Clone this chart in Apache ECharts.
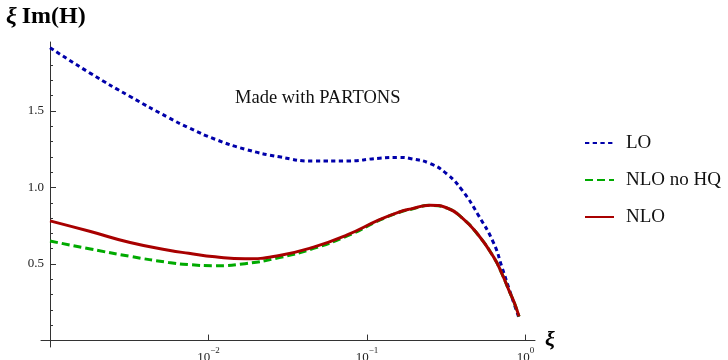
<!DOCTYPE html>
<html>
<head>
<meta charset="utf-8">
<script src="https://cdn.jsdelivr.net/npm/echarts@6/dist/echarts.min.js"></script>
<style>
html,body{margin:0;padding:0;background:#fff;}
#chart{width:728px;height:360px;}
</style>
</head>
<body>
<div id="chart"></div>
<script>
// ---- data ----
const xi        = [0.001, 0.0018, 0.0032, 0.0056, 0.0075, 0.011, 0.017, 0.028, 0.046, 0.075, 0.12, 0.16, 0.19, 0.25, 0.32, 0.4, 0.5, 0.63, 0.71, 0.79, 0.85, 0.91];
const loValues  = [1.913, 1.745, 1.594, 1.456, 1.390, 1.315, 1.250, 1.200, 1.172, 1.173, 1.191, 1.196, 1.188, 1.156, 1.087, 0.979, 0.825, 0.636, 0.480, 0.334, 0.236, 0.148];
const nloNoHQ   = [0.650, 0.598, 0.550, 0.510, 0.496, 0.489, 0.502, 0.542, 0.602, 0.683, 0.786, 0.838, 0.858, 0.883, 0.865, 0.799, 0.693, 0.544, 0.437, 0.322, 0.246, 0.157];
const nloValues = [0.782, 0.712, 0.640, 0.590, 0.570, 0.547, 0.534, 0.556, 0.610, 0.690, 0.790, 0.840, 0.860, 0.884, 0.866, 0.800, 0.694, 0.545, 0.438, 0.323, 0.247, 0.158];
const seriesNames = ['LO', 'NLO no HQ', 'NLO'];
const xTickValues = [0.01, 0.1, 1];
const yMajorTicks = [0.5, 1.0, 1.5];
const yMinorTicks = [0.1, 0.2, 0.3, 0.4, 0.6, 0.7, 0.8, 0.9, 1.1, 1.2, 1.3, 1.4, 1.6, 1.7, 1.8, 1.9];

const FONT = '"Liberation Serif", "DejaVu Serif", serif';
const pairs = arr => xi.map((x, i) => [x, arr[i]]);

const chart = echarts.init(document.getElementById('chart'), null, {renderer: 'canvas'});
const axisColor = '#333';

const yCommon = {
  type: 'value', min: -0.042, max: 1.95, position: 'left', offset: -9,
  splitLine: {show: false}
};

chart.setOption({
  animation: false,
  backgroundColor: '#fff',
  grid: {left: 41, right: 193, top: 42, bottom: 13, outerBoundsMode: 'none', containLabel: false},
  title: {
    left: 6, top: 5, padding: 0,
    text: '{g|ξ} {t|Im(H)}',
    textStyle: {
      rich: {
        g: {fontFamily: FONT, fontSize: 24, fontWeight: 'bold', fontStyle: 'italic', color: '#000'},
        t: {fontFamily: FONT, fontSize: 24, fontWeight: 'bold', color: '#000'}
      }
    }
  },
  graphic: [{
    type: 'text', left: 235, top: 89,
    style: {text: 'Made with PARTONS', font: '18.5px ' + FONT, fill: '#111'}
  }],
  legend: {
    orient: 'vertical', left: 584, top: 133, padding: 0,
    itemWidth: 29, itemHeight: 14, itemGap: 17,
    data: seriesNames,
    itemStyle: {color: 'rgba(0,0,0,0)', borderWidth: 0, opacity: 0},
    textStyle: {fontFamily: FONT, fontSize: 19, color: '#111', lineHeight: 20, padding: [0, 0, 0, 7]}
  },
  xAxis: {
    type: 'log', logBase: 10, min: 0.000877, max: 1.148, offset: -6,
    name: 'ξ', nameLocation: 'end', nameGap: 10,
    nameTextStyle: {fontFamily: FONT, fontSize: 22, fontWeight: 'bold', fontStyle: 'italic', color: '#000', verticalAlign: 'middle', padding: [6, 0, 0, 0]},
    axisLine: {lineStyle: {color: axisColor, width: 1}},
    axisTick: {show: true, inside: true, length: 6, customValues: xTickValues, lineStyle: {color: axisColor}},
    minorTick: {show: false},
    splitLine: {show: false},
    axisLabel: {
      customValues: xTickValues, margin: 5,
      formatter: v => {
        const e = Math.round(Math.log10(v));
        return '{b|10}{s|' + (e < 0 ? '\u2212' + (-e) : e) + '}';
      },
      rich: {
        b: {fontFamily: FONT, fontSize: 13, color: '#222', verticalAlign: 'bottom', lineHeight: 18},
        s: {fontFamily: FONT, fontSize: 9, color: '#222', verticalAlign: 'top', lineHeight: 18}
      }
    }
  },
  yAxis: [
    Object.assign({}, yCommon, {
      axisLine: {show: true, lineStyle: {color: axisColor, width: 1}},
      axisTick: {show: true, inside: true, length: 6, customValues: yMajorTicks, lineStyle: {color: axisColor}},
      axisLabel: {customValues: yMajorTicks, margin: 6, formatter: v => v.toFixed(1),
        fontFamily: FONT, fontSize: 13, color: '#222'}
    }),
    Object.assign({}, yCommon, {
      axisLine: {show: false},
      axisTick: {show: true, inside: true, length: 3, customValues: yMinorTicks, lineStyle: {color: axisColor}},
      axisLabel: {show: false}
    })
  ],
  series: [
    {name: 'LO', type: 'line', data: pairs(loValues), smooth: 0.5, symbol: 'none', z: 2,
     lineStyle: {color: '#0000aa', width: 3, type: [4.3, 3.4], cap: 'butt'}, itemStyle: {color: '#0000aa'}},
    {name: 'NLO no HQ', type: 'line', data: pairs(nloNoHQ), smooth: 0.5, symbol: 'none', z: 3,
     lineStyle: {color: '#00aa00', width: 3, type: [8, 4], cap: 'butt'}, itemStyle: {color: '#00aa00'}},
    {name: 'NLO', type: 'line', data: pairs(nloValues), smooth: 0.5, symbol: 'none', z: 4,
     lineStyle: {color: '#a80000', width: 3, type: 'solid'}, itemStyle: {color: '#a80000'}}
  ]
});
</script>
</body>
</html>
